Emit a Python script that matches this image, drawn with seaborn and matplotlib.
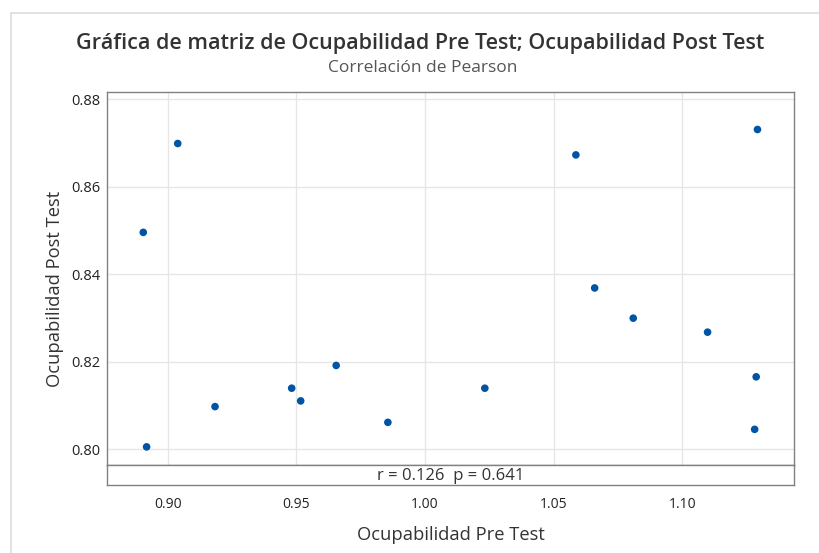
import matplotlib
matplotlib.use("Agg")
import matplotlib.pyplot as plt
import seaborn as sns
import pandas as pd
from matplotlib.patches import Rectangle

pre_test = [0.9039, 0.8905, 0.8918, 0.9184, 0.9482, 0.9517, 0.9655, 0.9856,
            1.0233, 1.0587, 1.0660, 1.0810, 1.1099, 1.1293, 1.1288, 1.1282]
post_test = [0.8699, 0.8496, 0.8006, 0.8098, 0.8140, 0.8111, 0.8192, 0.8062,
             0.8140, 0.8673, 0.8369, 0.8300, 0.8268, 0.8731, 0.8166, 0.8046]
x_ticks = [0.90, 0.95, 1.00, 1.05, 1.10]
y_ticks = [0.80, 0.82, 0.84, 0.86, 0.88]
title = "Gráfica de matriz de Ocupabilidad Pre Test; Ocupabilidad Post Test"
subtitle = "Correlación de Pearson"
x_label = "Ocupabilidad Pre Test"
y_label = "Ocupabilidad Post Test"
stat_text = "r = 0.126  p = 0.641"

sns.set_style("white")
plt.rcParams['font.family'] = ['Open Sans', 'DejaVu Sans']

df = pd.DataFrame({x_label: pre_test, y_label: post_test})

W, H = 819, 553
fig = plt.figure(figsize=(W / 100, H / 100), dpi=100)

def fx(px):
    return px / W

def fy(py):
    return 1 - py / H

left, right = 107, 794
top, mid, bottom = 92.3, 464.5, 485
ax = fig.add_axes([fx(left), fy(mid), fx(right - left), (mid - top) / H])
band = fig.add_axes([fx(left), fy(bottom), fx(right - left), (bottom - mid) / H], sharex=ax)

# outer frame of graph region
fig.patches.append(Rectangle((fx(11), fy(H + 20)), 1.2, fy(13) - fy(H + 20),
                             transform=fig.transFigure, fill=False,
                             edgecolor='#dcdcdc', linewidth=1.2))

sns.scatterplot(data=df, x=x_label, y=y_label, ax=ax, color='#0054A6',
                s=30, edgecolor='none', zorder=3)

ax.set_xlim(0.8764, 1.1435)
ax.set_ylim(0.79657, 0.8816)
ax.set_xticks(x_ticks)
ax.set_yticks(y_ticks)
ax.set_yticklabels([f"{v:.2f}" for v in y_ticks], fontsize=10.5, color='#222222')
ax.tick_params(axis='x', which='both', bottom=False, labelbottom=False)
ax.tick_params(axis='y', length=3, width=0.8, color='#808080', pad=2)
ax.grid(True, color='#e6e6e6', linewidth=1)
ax.set_axisbelow(True)
ax.set_xlabel("")
ax.set_ylabel(y_label, fontsize=13.2, color='#333333')
ax.yaxis.set_label_coords(-0.063, (mid - (top + bottom) / 2) / (mid - top))
for sp in ax.spines.values():
    sp.set_color('#808080')
    sp.set_linewidth(1)

band.set_yticks([])
band.set_xticks(x_ticks)
band.set_xticklabels([f"{v:.2f}" for v in x_ticks], fontsize=10, color='#222222')
band.tick_params(axis='x', length=3, width=0.8, color='#808080', pad=6)
for sp in band.spines.values():
    sp.set_color('#808080')
    sp.set_linewidth(1)
band.text(0.5, 0.45, stat_text, transform=band.transAxes, ha='center', va='center',
          fontsize=12, color='#333333')
band.set_xlabel(x_label, fontsize=13.2, color='#333333', labelpad=10)

fig.text(fx(420.5), fy(43), title, ha='center', va='center', fontsize=15.5,
         fontweight='semibold', color='#333333')
fig.text(fx(422.5), fy(68), subtitle, ha='center', va='center', fontsize=12.5,
         color='#555555')

fig.savefig("out.png", dpi=100)
